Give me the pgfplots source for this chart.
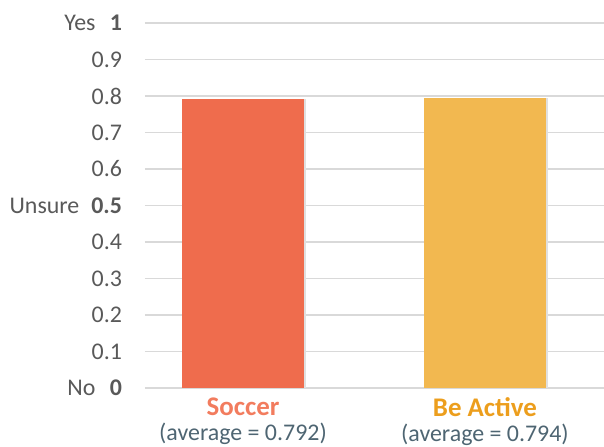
\documentclass[border=0pt]{standalone}
\usepackage{pgfplots}
\pgfplotsset{compat=1.18}
\usepackage{fontspec}
\setmainfont{Carlito}
\definecolor{soccerbar}{HTML}{EF6C4D}
\definecolor{soccerlab}{HTML}{F27C5E}
\definecolor{activebar}{HTML}{F2B850}
\definecolor{activelab}{HTML}{EC9E1D}
\definecolor{subcol}{HTML}{4E6572}
\definecolor{tickcol}{HTML}{595959}
\definecolor{gridcol}{HTML}{D9D9D9}
\begin{document}
\begin{tikzpicture}
\useasboundingbox (-72.5bp,-29.5bp) rectangle (229.5bp,194bp);
\begin{axis}[
  at={(0,0)}, anchor=south west,
  scale only axis,
  width=229.5bp, height=182.5bp,
  xmin=-0.405, xmax=1.492,
  ymin=0, ymax=1,
  axis line style={draw=none},
  ymajorgrids, major grid style={draw=gridcol, line width=0.8bp},
  major tick length=0,
  ytick={0,0.1,0.2,0.3,0.4,0.5,0.6,0.7,0.8,0.9,1},
  yticklabels={No\hspace{0.6em}\textbf{0},0.1,0.2,0.3,0.4,Unsure\hspace{0.5em}\textbf{0.5},0.6,0.7,0.8,0.9,Yes\hspace{0.6em}\textbf{1}},
  xtick={0,1},
  xticklabels={{\textcolor{soccerlab}{\fontsize{13.5}{13}\selectfont\textbf{Soccer}}\\\textcolor{subcol}{(average = 0.792)}},
               {\textcolor{activelab}{\fontsize{13.5}{13}\selectfont\textbf{Be Active}}\\\textcolor{subcol}{(average = 0.794)}}},
  yticklabel style={font=\fontsize{12}{14}\selectfont, text=tickcol, anchor=east, xshift=-8bp},
  xticklabel style={font=\fontsize{12}{12.5}\selectfont, align=center, anchor=north, yshift=-1.5bp},
  /pgf/number format/assume math mode=true,
  clip=false,
  ybar, bar width=61bp,
]
\draw[gridcol, line width=0.8bp] (axis cs:-0.405,0) -- (axis cs:1.492,0);
\addplot[fill=black!12, draw=none, bar shift=1.2bp] coordinates {(0,0.792)};
\addplot[fill=black!12, draw=none, bar shift=1.2bp] coordinates {(1,0.794)};
\addplot[fill=soccerbar, draw=none, bar shift=0pt] coordinates {(0,0.792)};
\addplot[fill=activebar, draw=none, bar shift=0pt] coordinates {(1,0.794)};
\end{axis}
\end{tikzpicture}
\end{document}
